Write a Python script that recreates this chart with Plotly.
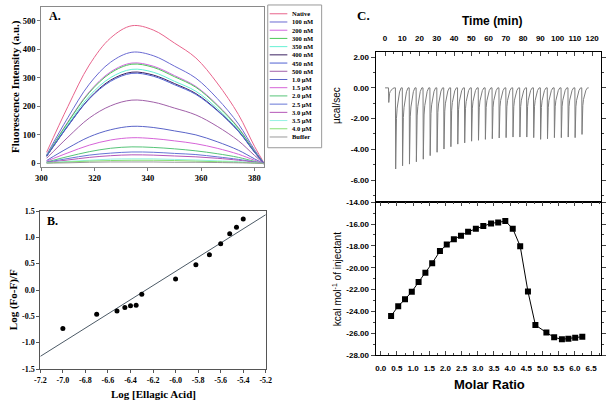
import plotly.graph_objects as go

W, H = 609, 406

# ---------------- Panel A data (fluorescence spectra) ----------------
wavelength = [302, 310, 318, 326, 334, 342, 350, 358, 366, 374, 380, 384]
fl_native = [39, 200, 345, 440, 483, 468, 422, 370, 282, 171, 60, -5]
fl_100nM = [30, 161, 278, 355, 390, 378, 341, 299, 228, 138, 48, -5]
fl_200nM = [27, 146, 251, 321, 352, 341, 308, 270, 206, 125, 44, -5]
fl_300nM = [27, 144, 248, 317, 348, 337, 304, 267, 203, 123, 43, -5]
fl_350nM = [26, 137, 236, 301, 330, 320, 288, 253, 193, 117, 41, -5]
fl_400nM = [25, 132, 228, 292, 320, 310, 280, 245, 187, 113, 40, -5]
fl_450nM = [25, 131, 226, 288, 316, 306, 276, 242, 185, 112, 39, -5]
fl_500nM = [18, 92, 159, 202, 222, 215, 194, 170, 130, 79, 28, -4]
fl_1_0uM = [10, 54, 93, 118, 130, 126, 114, 100, 76, 46, 16, -3]
fl_1_5uM = [8, 37, 64, 82, 90, 87, 79, 69, 53, 32, 11, -3]
fl_2_0uM = [5, 24, 41, 53, 58, 56, 51, 44, 34, 21, 7, -2]
fl_2_5uM = [4, 17, 29, 36, 40, 39, 35, 31, 23, 14, 5, -2]
fl_3_0uM = [3, 12, 21, 27, 30, 29, 26, 23, 18, 11, 4, -2]
fl_3_5uM = [2, 7, 11, 15, 16, 16, 14, 12, 9, 6, 2, -1]
fl_4_0uM = [1, 5, 8, 10, 11, 11, 10, 8, 6, 4, 1, -1]
fl_buffer = [1, 2, 4, 5, 5, 5, 4, 4, 3, 2, 1, 0]

series_names = ["Native", "100 nM", "200 nM", "300 nM", "350 nM", "400 nM", "450 nM",
                "500 nM", "1.0 µM", "1.5 µM", "2.0 µM", "2.5 µM", "3.0 µM", "3.5 µM",
                "4.0 µM", "Buffer"]
series_values = [fl_native, fl_100nM, fl_200nM, fl_300nM, fl_350nM, fl_400nM, fl_450nM,
                 fl_500nM, fl_1_0uM, fl_1_5uM, fl_2_0uM, fl_2_5uM, fl_3_0uM, fl_3_5uM,
                 fl_4_0uM, fl_buffer]
series_colors = ["#e8648c", "#6a6ad2", "#d264e0", "#4cc85a", "#66f0d4", "#3a2060",
                 "#5062d2", "#a060a8", "#5a64c8", "#d664d8", "#56c478", "#6676d6",
                 "#b456b8", "#96f2e2", "#86e072", "#9a9a9a"]

# ---------------- Panel B data (double log plot) ----------------
log_conc = [-7.00, -6.70, -6.52, -6.45, -6.40, -6.35, -6.30, -6.00, -5.82, -5.70,
            -5.60, -5.52, -5.46, -5.40]
log_quench = [-0.73, -0.46, -0.40, -0.33, -0.30, -0.29, -0.08, 0.21, 0.48, 0.67,
              0.88, 1.07, 1.19, 1.35]
fit_x = [-7.2, -5.2]
fit_y = [-1.26, 1.43]

# ---------------- Panel C data (ITC) ----------------
inj_times = [2, 6, 10, 14, 18, 22, 26, 30, 34, 38, 42, 46, 50, 54, 58, 62, 66, 70,
             74, 78, 82, 86, 90, 94, 98, 102, 106, 110, 114]
peak_depths = [-0.95, -5.28, -5.07, -4.96, -4.81, -4.64, -4.41, -4.19, -3.98, -3.83,
               -3.66, -3.58, -3.47, -3.41, -3.35, -3.31, -3.26, -3.24, -3.20, -3.20,
               -3.20, -3.24, -3.35, -3.31, -3.24, -3.24, -3.20, -3.24, -3.03]
recovery_offsets = [0.15, 0.35, 0.6, 1.0, 1.6, 2.4, 3.3]
recovery_fraction = [1.0, 0.6, 0.38, 0.25, 0.14, 0.05, 0.0]
run_start, run_end = 0, 118

molar_ratio = [0.32, 0.54, 0.75, 0.96, 1.17, 1.38, 1.59, 1.83, 2.04, 2.26, 2.48, 2.70,
               2.94, 3.17, 3.41, 3.63, 3.85, 4.08, 4.31, 4.55, 4.78, 5.12, 5.36, 5.60,
               5.80, 6.01, 6.23]
heat = [-24.42, -23.52, -22.89, -22.20, -21.31, -20.47, -19.58, -18.48, -17.88, -17.40,
        -17.07, -16.71, -16.44, -16.18, -15.94, -15.85, -15.73, -16.42, -18.03, -22.18,
        -25.25, -25.94, -26.38, -26.56, -26.50, -26.41, -26.32]


def xd(a, b):
    return [a / W, b / W]


def yd(top, bottom):
    return [1 - bottom / H, 1 - top / H]


SERIF = "Liberation Serif"
SANS = "Liberation Sans"

fig = go.Figure()

# Panel A
for name, vals, col in zip(series_names, series_values, series_colors):
    fig.add_trace(go.Scatter(x=wavelength, y=vals, mode="lines", name=name,
                             line=dict(color=col, width=1, shape="spline", smoothing=1.0),
                             xaxis="x", yaxis="y", showlegend=False))

# Panel B
fig.add_trace(go.Scatter(x=fit_x, y=fit_y, mode="lines", line=dict(color="#4c5a66", width=1),
                         xaxis="x2", yaxis="y2", showlegend=False))
fig.add_trace(go.Scatter(x=log_conc, y=log_quench, mode="markers",
                         marker=dict(color="black", size=5),
                         xaxis="x2", yaxis="y2", showlegend=False))

# Panel C top: raw thermogram
tx, ty = [run_start], [0]
for t0, d in zip(inj_times, peak_depths):
    tx.append(t0)
    ty.append(0)
    for off, fr in zip(recovery_offsets, recovery_fraction):
        tx.append(t0 + off)
        ty.append(d * fr)
tx.append(run_end)
ty.append(0)
fig.add_trace(go.Scatter(x=tx, y=ty, mode="lines", line=dict(color="#7c7c7c", width=1),
                         xaxis="x3", yaxis="y3", showlegend=False))

# Panel C bottom: integrated heats
fig.add_trace(go.Scatter(x=molar_ratio, y=heat, mode="lines+markers",
                         line=dict(color="black", width=1),
                         marker=dict(symbol="square", size=6, color="black"),
                         xaxis="x4", yaxis="y4", showlegend=False))

serif_tick = dict(family=SERIF, size=8.5, color="black", weight="bold")
sans_tick = dict(family=SANS, size=8, color="black", weight="bold")


def ticks_array(vals, fmt):
    return dict(tickmode="array", tickvals=vals, ticktext=[format(v, fmt) for v in vals])


a_y_ticks = [0, 100, 200, 300, 400, 500]
a_x_ticks = [300, 320, 340, 360, 380]
b_x_ticks = [-7.2, -7.0, -6.8, -6.6, -6.4, -6.2, -6.0, -5.8, -5.6, -5.4, -5.2]
b_y_ticks = [-1.5, -1.0, -0.5, 0.0, 0.5, 1.0, 1.5]
c_time_ticks = [0, 10, 20, 30, 40, 50, 60, 70, 80, 90, 100, 110, 120]
c_top_y_ticks = [2, 0, -2, -4, -6]
c_mr_ticks = [0.0, 0.5, 1.0, 1.5, 2.0, 2.5, 3.0, 3.5, 4.0, 4.5, 5.0, 5.5, 6.0, 6.5]
c_bot_y_ticks = [-14, -16, -18, -20, -22, -24, -26, -28]

fig.update_layout(
    width=W, height=H, margin=dict(l=0, r=0, t=0, b=0),
    paper_bgcolor="white", plot_bgcolor="white",
    xaxis=dict(domain=xd(36, 263), range=[300, 383.5], **ticks_array(a_x_ticks, "d"),
               ticks="outside", ticklen=3, tickcolor="#777", showline=True, mirror=True,
               linecolor="#8a8a8a", linewidth=1, showgrid=False, zeroline=False,
               tickfont=serif_tick, anchor="y"),
    yaxis=dict(domain=yd(2.7, 166.5), range=[-12, 550], **ticks_array(a_y_ticks, "d"),
               ticks="outside", ticklen=3, tickcolor="#777", showline=True, mirror=True,
               linecolor="#8a8a8a", linewidth=1, showgrid=False, zeroline=False,
               tickfont=serif_tick, anchor="x"),
    xaxis2=dict(domain=xd(35, 265), range=[-7.2, -5.2], **ticks_array(b_x_ticks, ".1f"),
                ticks="outside", ticklen=3, tickcolor="#555", showline=True, mirror=True,
                linecolor="#555", linewidth=1, showgrid=False, zeroline=False,
                tickfont=dict(family=SERIF, size=8, color="black", weight="bold"), anchor="y2"),
    yaxis2=dict(domain=yd(211.7, 373.3), range=[-1.5, 1.5], **ticks_array(b_y_ticks, ".1f"),
                ticks="outside", ticklen=3, tickcolor="#555", showline=True, mirror=True,
                linecolor="#555", linewidth=1, showgrid=False, zeroline=False,
                tickfont=dict(family=SERIF, size=8, color="black", weight="bold"), anchor="x2"),
    xaxis3=dict(domain=xd(377, 606.7), range=[-5.5, 125], side="top",
                **ticks_array(c_time_ticks, "d"), ticks="inside", ticklen=4,
                ticklabelstandoff=7,
                minor=dict(tickmode="linear", tick0=5, dtick=10, ticks="inside", ticklen=2),
                showline=True, mirror=True, linecolor="black", linewidth=1,
                showgrid=False, zeroline=False, tickfont=sans_tick, anchor="y3"),
    yaxis3=dict(domain=yd(49, 202.7), range=[-7.44, 2.34], **ticks_array(c_top_y_ticks, ".2f"),
                ticks="outside", ticklen=4,
                minor=dict(tickmode="linear", tick0=1, dtick=2, ticks="outside", ticklen=2),
                showline=True, mirror="ticks", linecolor="black", linewidth=1,
                showgrid=False, zeroline=False, tickfont=sans_tick, anchor="x3"),
    xaxis4=dict(domain=xd(377, 606.7), range=[-0.16, 6.8], **ticks_array(c_mr_ticks, ".1f"),
                ticks="inside", ticklen=4, ticklabelstandoff=5,
                minor=dict(tickmode="linear", tick0=0.25, dtick=0.5, ticks="inside", ticklen=2),
                showline=True, mirror="ticks", linecolor="black", linewidth=1,
                showgrid=False, zeroline=False, tickfont=sans_tick, anchor="y4"),
    yaxis4=dict(domain=yd(202.7, 359), range=[-28, -14], **ticks_array(c_bot_y_ticks, ".2f"),
                ticks="outside", ticklen=4,
                minor=dict(tickmode="linear", tick0=-15, dtick=2, ticks="outside", ticklen=2),
                showline=True, mirror="ticks", linecolor="black", linewidth=1,
                showgrid=False, zeroline=False, tickfont=sans_tick, anchor="x4"),
)


def ann(text, px, py, size, family, rot=0, xanchor="center", yanchor="middle", weight="bold"):
    fig.add_annotation(text=text, x=px / W, y=1 - py / H, xref="paper", yref="paper",
                       showarrow=False, textangle=rot, xanchor=xanchor, yanchor=yanchor,
                       font=dict(family=family, size=size, color="black", weight=weight))


# Panel labels and titles
ann("A.", 42, 12, 12, SERIF, xanchor="left")
ann("B.", 40, 222, 12, SERIF, xanchor="left")
ann("C.", 356, 12, 13, SERIF, xanchor="left")
ann("Fluorescence Intensity (a.u.)", 9, 84, 11, SERIF, rot=-90)
ann("Log (Fo-F)/F", 7, 302, 11, SERIF, rot=-90)
ann("Log [Ellagic Acid]", 150, 399, 11, SERIF)
ann("Time (min)", 496, 17, 12, SANS)
ann("Molar Ratio", 493, 389, 13, SANS)
ann("µcal/sec", 337, 104, 10, SANS, rot=-90, weight="normal")
ann("kcal mol<sup>-1</sup> of injectant", 337, 281, 10, SANS, rot=-90, weight="normal")

# Custom compact legend for panel A
fig.add_shape(type="rect", xref="paper", yref="paper", x0=267 / W, x1=322 / W,
              y0=1 - 147 / H, y1=1 - 1 / H, line=dict(color="#9a9a9a", width=1),
              fillcolor="white")
for i, (name, col) in enumerate(zip(series_names, series_colors)):
    yy = 10 + i * 8.4
    fig.add_shape(type="line", xref="paper", yref="paper", x0=269 / W, x1=287 / W,
                  y0=1 - yy / H, y1=1 - yy / H, line=dict(color=col, width=1))
    ann(name, 290, yy, 6.5, SERIF, xanchor="left")

fig.write_html("out.html")
